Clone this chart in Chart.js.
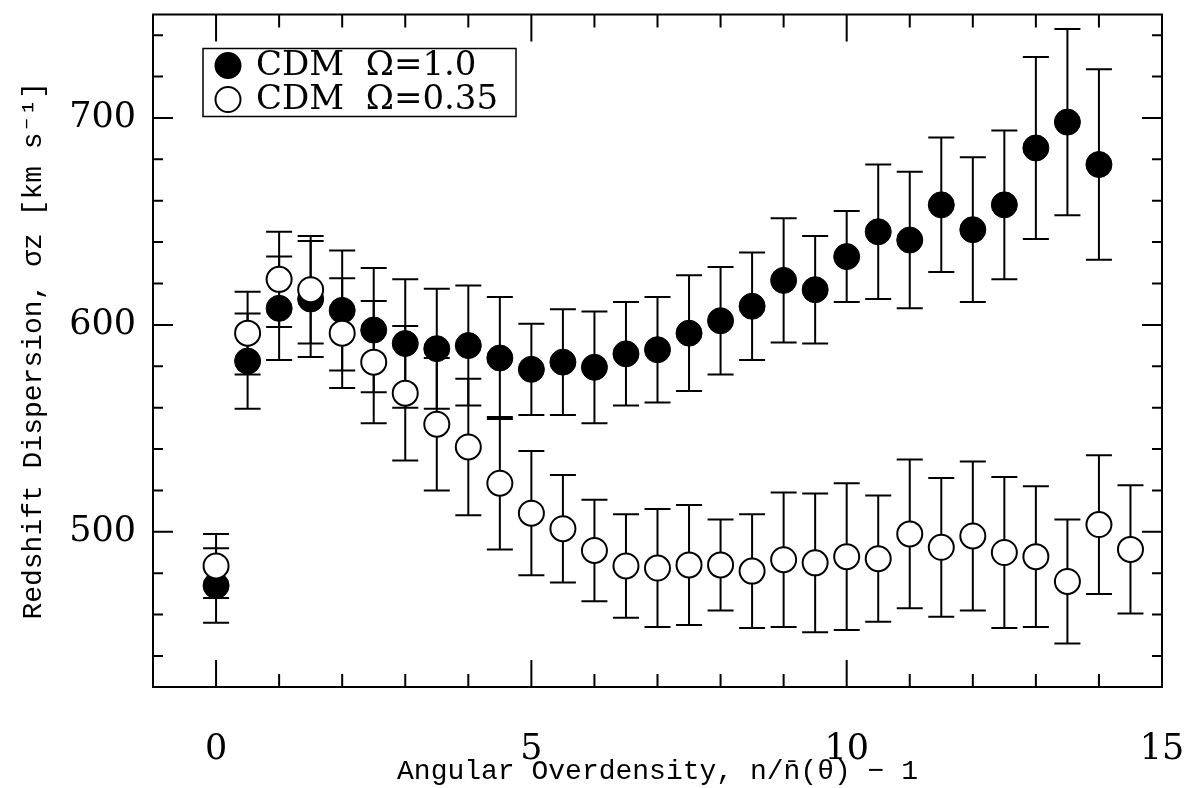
<!DOCTYPE html>
<html>
<head>
<meta charset="utf-8">
<script src="https://cdn.jsdelivr.net/npm/chart.js@4.4.1/dist/chart.umd.min.js"></script>
<style>
  html, body { margin: 0; padding: 0; background: #fff; }
  #wrap { width: 1188px; height: 788px; }
</style>
</head>
<body>
<div id="wrap"><canvas id="sigmaChart"></canvas></div>
<script>
// overdensity bins
const xFilled = [0, 0.5, 1, 1.5, 2, 2.5, 3, 3.5, 4, 4.5, 5, 5.5, 6, 6.5, 7, 7.5, 8, 8.5, 9, 9.5, 10, 10.5, 11, 11.5, 12, 12.5, 13, 13.5, 14];
const xOpen = [0, 0.5, 1, 1.5, 2, 2.5, 3, 3.5, 4, 4.5, 5, 5.5, 6, 6.5, 7, 7.5, 8, 8.5, 9, 9.5, 10, 10.5, 11, 11.5, 12, 12.5, 13, 13.5, 14, 14.5];

// CDM Omega=1.0
const sigmaFilled = [474, 582.5, 608, 612.5, 607, 597.5, 591, 588.5, 590, 584, 578.5, 582, 579.5, 586, 588, 596, 602, 609, 621.5, 617, 633, 645, 641, 658, 646, 658, 685.5, 698, 677.5];
const errFilled = [18, 23, 25, 28, 29, 30, 31, 29, 29, 29.5, 22, 25.5, 27, 25, 25.5, 28, 26, 26, 30, 26, 22, 32.5, 33, 32.5, 35, 36, 44, 45, 46];

// CDM Omega=0.35
const sigmaOpen = [483.5, 596, 622, 617, 596, 582, 567, 552, 541, 523.5, 509, 501.5, 491, 483.5, 482.5, 484, 484, 481, 486.5, 485, 488, 487, 499, 492.5, 498, 490, 488, 476, 503.5, 491.5];
const errOpen = [15.5, 20, 23, 26, 26.5, 29.5, 32.5, 32, 33, 32, 30, 26, 24.5, 25, 28.5, 29, 22, 27.5, 32.5, 33.5, 35.5, 30.5, 36, 33.5, 36, 36.5, 34, 30, 33.5, 31];

const seriesLabels = ["CDM  \u03A9=1.0", "CDM  \u03A9=0.35"];

// axis ticks
const xMajor = [0, 5, 10, 15];
const xMinor = [0, 1, 2, 3, 4, 5, 6, 7, 8, 9, 10, 11, 12, 13, 14, 15];
const yMajor = [500, 600, 700];
const yMinor = [440, 460, 480, 500, 520, 540, 560, 580, 600, 620, 640, 660, 680, 700, 720, 740];

const SERIF = "'DejaVu Serif', 'Liberation Serif', serif";
const MONO = "'Liberation Mono', 'DejaVu Sans Mono', monospace";

function toPoints(xs, ys) {
  return xs.map((x, i) => ({ x: x, y: ys[i] }));
}

// barras de erro desenhadas antes dos pontos
const errorBars = {
  id: "errorBars",
  beforeDatasetsDraw(chart) {
    const { ctx, scales: { x, y } } = chart;
    ctx.save();
    ctx.strokeStyle = "#000";
    ctx.lineWidth = 2;
    chart.data.datasets.forEach(ds => {
      ds.data.forEach((p, i) => {
        const px = x.getPixelForValue(p.x);
        const top = y.getPixelForValue(p.y + ds.errors[i]);
        const bot = y.getPixelForValue(p.y - ds.errors[i]);
        ctx.beginPath();
        ctx.moveTo(px, top); ctx.lineTo(px, bot);
        ctx.moveTo(px - 13, top); ctx.lineTo(px + 13, top);
        ctx.moveTo(px - 13, bot); ctx.lineTo(px + 13, bot);
        ctx.stroke();
      });
    });
    ctx.restore();
  }
};

// moldura e ticks para dentro nos quatro lados
const frameTicks = {
  id: "frameTicks",
  beforeDatasetsDraw(chart) {
    const { ctx, chartArea: a, scales: { x, y } } = chart;
    ctx.save();
    ctx.strokeStyle = "#000";
    ctx.lineWidth = 2;
    ctx.strokeRect(a.left, a.top, a.right - a.left, a.bottom - a.top);
    ctx.beginPath();
    xMinor.forEach(v => {
      const px = x.getPixelForValue(v);
      const len = xMajor.includes(v) ? 27 : 13;
      ctx.moveTo(px, a.bottom); ctx.lineTo(px, a.bottom - len);
      ctx.moveTo(px, a.top); ctx.lineTo(px, a.top + len);
    });
    yMinor.forEach(v => {
      const py = y.getPixelForValue(v);
      const len = yMajor.includes(v) ? 20 : 10;
      ctx.moveTo(a.left, py); ctx.lineTo(a.left + len, py);
      ctx.moveTo(a.right, py); ctx.lineTo(a.right - len, py);
    });
    ctx.stroke();
    ctx.restore();
  }
};

// legenda dentro do gráfico, com caixa
const legendBox = {
  id: "legendBox",
  afterDraw(chart) {
    const { ctx, chartArea: a } = chart;
    const bx = a.left + 50, by = a.top + 34, bw = 313, bh = 68;
    ctx.save();
    ctx.fillStyle = "#fff";
    ctx.fillRect(bx, by, bw, bh);
    ctx.strokeStyle = "#000";
    ctx.lineWidth = 1.5;
    ctx.strokeRect(bx, by, bw, bh);
    chart.data.datasets.forEach((ds, i) => {
      const cy = by + 17 + i * 34;
      ctx.beginPath();
      ctx.arc(bx + 25, cy, 12.5, 0, Math.PI * 2);
      ctx.fillStyle = ds.backgroundColor;
      ctx.fill();
      ctx.lineWidth = 2;
      ctx.stroke();
      ctx.fillStyle = "#000";
      ctx.font = "34px " + SERIF;
      ctx.textBaseline = "middle";
      ctx.fillText(ds.label, bx + 53, cy + 1);
    });
    ctx.restore();
  }
};

const ctx = document.getElementById("sigmaChart").getContext("2d");
new Chart(ctx, {
  type: "scatter",
  data: {
    datasets: [
      {
        label: seriesLabels[0],
        data: toPoints(xFilled, sigmaFilled),
        errors: errFilled,
        backgroundColor: "#000",
        borderColor: "#000",
        borderWidth: 1,
        pointRadius: 13,
        order: 2
      },
      {
        label: seriesLabels[1],
        data: toPoints(xOpen, sigmaOpen),
        errors: errOpen,
        backgroundColor: "#fff",
        borderColor: "#000",
        borderWidth: 2,
        pointRadius: 12.5,
        order: 1
      }
    ]
  },
  options: {
    responsive: true,
    maintainAspectRatio: false,
    animation: false,
    layout: { padding: { top: 12, right: 26, left: 0, bottom: 0 } },
    plugins: {
      legend: { display: false },
      tooltip: { enabled: false }
    },
    scales: {
      x: {
        type: "linear",
        min: -1,
        max: 15,
        grid: { display: false, drawTicks: false },
        border: { display: false },
        afterBuildTicks: scale => { scale.ticks = xMajor.map(v => ({ value: v })); },
        afterFit: scale => {
          scale.height = 101;
          scale.paddingLeft = 0;
          scale.paddingRight = 0;
        },
        ticks: {
          color: "#000",
          font: { family: SERIF, size: 35 },
          padding: 42,
          maxRotation: 0,
          autoSkip: false
        },
        title: {
          display: true,
          text: "Angular Overdensity, n/n\u0304(\u03B8) \u2212 1",
          color: "#000",
          font: { family: MONO, size: 28 },
          padding: { top: 0, bottom: 0 }
        }
      },
      y: {
        type: "linear",
        min: 425,
        max: 750,
        grid: { display: false, drawTicks: false },
        border: { display: false },
        afterBuildTicks: scale => { scale.ticks = yMajor.map(v => ({ value: v })); },
        afterFit: scale => {
          scale.width = 153;
          scale.paddingTop = 0;
          scale.paddingBottom = 0;
        },
        ticks: {
          color: "#000",
          font: { family: SERIF, size: 35 },
          padding: 17
        },
        title: {
          display: true,
          text: "Redshift Dispersion, \u03C3z [km s\u207B\u00B9]",
          color: "#000",
          font: { family: MONO, size: 28 },
          padding: { top: 17, bottom: 0 }
        }
      }
    }
  },
  plugins: [frameTicks, errorBars, legendBox]
});
</script>
</body>
</html>
